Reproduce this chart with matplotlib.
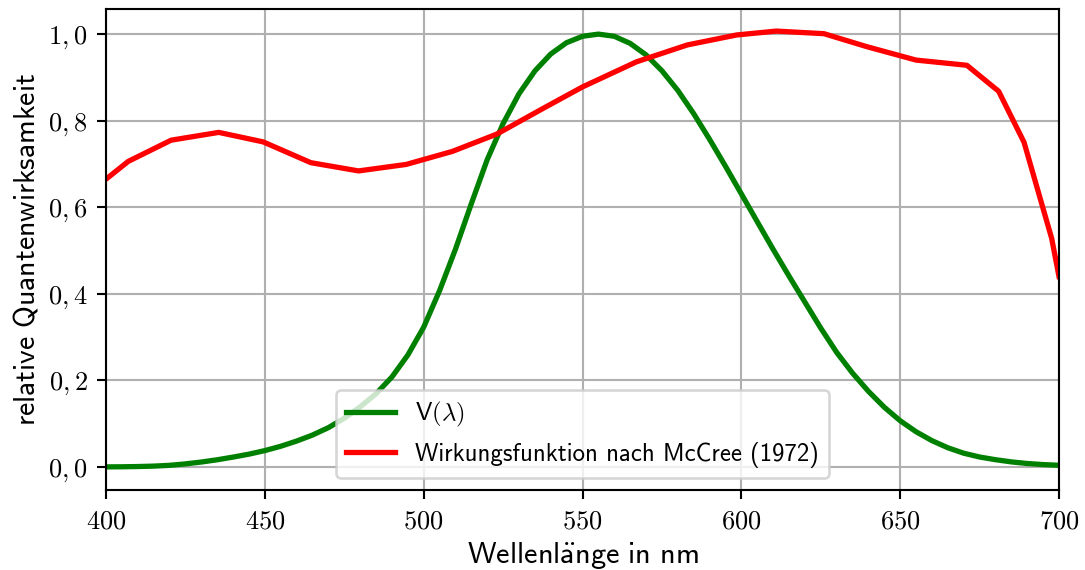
import matplotlib
matplotlib.use("Agg")
import matplotlib.pyplot as plt
from matplotlib.ticker import FuncFormatter

# CIE photopic luminosity function V(lambda)
v_wl = list(range(400, 705, 5))
v_val = [0.0004, 0.00064, 0.0012, 0.00218, 0.004, 0.0073, 0.0116, 0.01684,
         0.023, 0.0298, 0.038, 0.048, 0.06, 0.0739, 0.09098, 0.1126, 0.13902,
         0.1693, 0.20802, 0.2586, 0.323, 0.4073, 0.503, 0.6082, 0.71, 0.7932,
         0.862, 0.91485, 0.954, 0.9803, 0.99495, 1.0, 0.995, 0.9786, 0.952,
         0.9154, 0.87, 0.8163, 0.757, 0.6949, 0.631, 0.5668, 0.503, 0.4412,
         0.381, 0.321, 0.265, 0.217, 0.175, 0.1382, 0.107, 0.0816, 0.061,
         0.04458, 0.032, 0.0232, 0.017, 0.01192, 0.00821, 0.005723, 0.0041]

# McCree (1972) action spectrum
m_wl = [400, 407, 420.5, 435.5, 449.5, 464.5, 479.5, 494.5, 509, 523, 537.5,
        550, 567, 583, 598.5, 611, 626, 639.5, 655, 671, 681, 689, 697.7, 700]
m_val = [0.665, 0.706, 0.755, 0.773, 0.751, 0.703, 0.684, 0.699, 0.729, 0.769,
         0.828, 0.878, 0.936, 0.975, 0.998, 1.007, 1.001, 0.971, 0.940, 0.928,
         0.868, 0.75, 0.528, 0.44]

x_ticks = [400, 450, 500, 550, 600, 650, 700]
y_ticks = [0.0, 0.2, 0.4, 0.6, 0.8, 1.0]

plt.rcParams['mathtext.fontset'] = 'cm'
sans = ['cmss10', 'DejaVu Sans']

fig = plt.figure(figsize=(1085 / 190, 570 / 190), dpi=190)
ax = fig.add_axes([106 / 1085, 1 - 490 / 570, (1059 - 106) / 1085, (490 - 9) / 570])

ax.plot(v_wl, v_val, color='green', lw=2, solid_joinstyle='round',
        label=r'$\mathsf{V(}\lambda\mathsf{)}$')
ax.plot(m_wl, m_val, color='red', lw=2, solid_joinstyle='round',
        label='Wirkungsfunktion nach McCree (1972)')

ax.set_xlim(400, 700)
ax.set_ylim(-0.053, 1.058)
ax.set_xticks(x_ticks)
ax.set_yticks(y_ticks)
ax.xaxis.set_major_formatter(FuncFormatter(lambda v, p: r'$%d$' % v))
ax.yaxis.set_major_formatter(FuncFormatter(lambda v, p: (r'$%.1f$' % v).replace('.', ',')))
ax.grid(True, color='#b0b0b0', lw=0.8)
ax.set_axisbelow(True)

ax.set_xlabel(r'$\mathsf{Wellenl\ddot{a}nge\ in\ nm}$', fontsize=11.5, labelpad=2)
ax.set_ylabel(r'$\mathsf{relative\ Quantenwirksamkeit}$', fontsize=11.3, labelpad=3)

leg = ax.legend(loc='lower center', prop={'family': sans, 'size': 9.4})

fig.savefig('out.png', dpi=190)
